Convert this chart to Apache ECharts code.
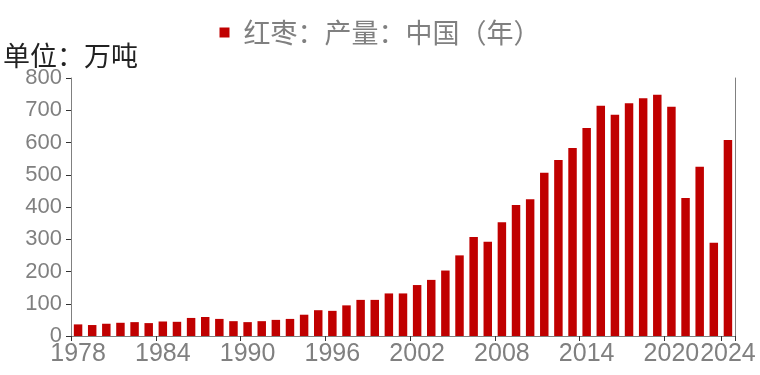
<!DOCTYPE html>
<html>
<head>
<meta charset="utf-8">
<script src="https://cdn.jsdelivr.net/npm/echarts@6/dist/echarts.min.js"></script>
<style>html,body{margin:0;padding:0;background:#fff}#c{width:760px;height:375px}</style>
</head>
<body>
<div id="c"></div>
<script>
const years = [];
for (let y = 1978; y <= 2024; y++) years.push(String(y));
const seriesName = '红枣：产量：中国（年）';
const unitLabel = '单位：万吨';
const production = [
  36, 34, 38, 41, 43, 40, 45, 44, 56, 59,
  53, 46, 43, 46, 50, 53, 66, 80, 78, 95,
  112, 112, 132, 132, 158, 174, 203, 250, 307, 292,
  353, 406, 424, 506, 546, 583, 645, 714, 686, 722,
  737, 748, 711, 428, 525, 289, 608
];
const yTicks = [0, 100, 200, 300, 400, 500, 600, 700, 800];

const chart = echarts.init(document.getElementById('c'));
const lastIdx = years.length - 1;
const showIdx = (i) => i % 6 === 0 || i === lastIdx;
chart.setOption({
  animation: false,
  title: {
    text: unitLabel, left: -2, top: 37,
    textStyle: { fontSize: 27, fontWeight: 'normal', color: '#222', fontFamily: 'Noto Sans CJK SC' }
  },
  legend: {
    data: [seriesName], top: 14, left: 'center',
    icon: 'rect', itemWidth: 10, itemHeight: 10, itemGap: 8,
    textStyle: { fontSize: 27, color: '#808080', fontFamily: 'Noto Sans CJK SC', padding: [0, 0, 0, 9] }
  },
  grid: { left: 71, right: 25, top: 78, bottom: 39, containLabel: false },
  xAxis: {
    type: 'category', data: years, boundaryGap: true,
    axisLine: { lineStyle: { color: '#808080', width: 1 } },
    axisTick: { show: true, interval: (i) => showIdx(i), length: 5, lineStyle: { color: '#333' } },
    axisLabel: {
      interval: (i) => showIdx(i), fontSize: 25, color: '#808080', fontFamily: 'Liberation Sans', margin: 6,
      hideOverlap: false, showMaxLabel: true, showMinLabel: true
    }
  },
  yAxis: [{
    type: 'value', min: 0, max: 800, interval: 100,
    splitLine: { show: false },
    axisLine: { show: true, lineStyle: { color: '#808080' } },
    axisTick: { show: true, length: 5, lineStyle: { color: '#333' } },
    axisLabel: { fontSize: 22, color: '#808080', fontFamily: 'Liberation Sans', margin: 9 }
  }, {
    type: 'value', min: 0, max: 800, interval: 100, position: 'right',
    splitLine: { show: false },
    axisLine: { show: true, lineStyle: { color: '#808080' } },
    axisTick: { show: false }, axisLabel: { show: false }
  }],
  series: [{
    name: seriesName, type: 'bar', data: production, barWidth: '60%',
    itemStyle: { color: '#C00000' }
  }]
});
</script>
</body>
</html>
